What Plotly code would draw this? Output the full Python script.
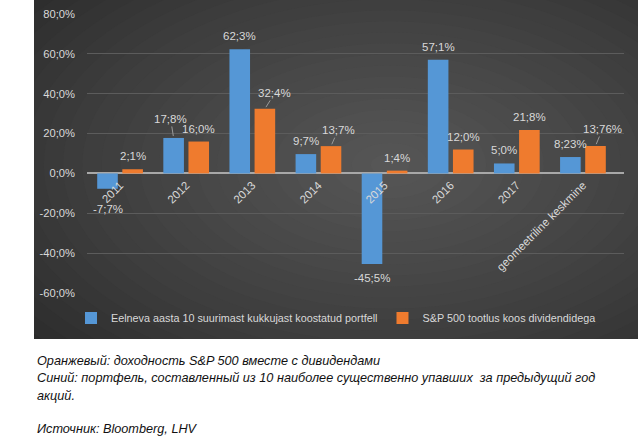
import plotly.graph_objects as go

# ---------------- data ----------------
categories = ["2011", "2012", "2013", "2014", "2015", "2016", "2017", "geomeetriline keskmine"]
portfolio = [-7.7, 17.8, 62.3, 9.7, -45.5, 57.1, 5.0, 8.23]
sp500 = [2.1, 16.0, 32.4, 13.7, 1.4, 12.0, 21.8, 13.76]
label_decimals = [1, 1, 1, 1, 1, 1, 1, 2]
series_names = ["Eelneva aasta 10 suurimast kukkujast koostatud portfell",
                "S&P 500 tootlus koos dividendidega"]
y_ticks = [80, 60, 40, 20, 0, -20, -40, -60]
notes = ["Оранжевый: доходность S&P 500 вместе с дивидендами",
         "Синий: портфель, составленный из 10 наиболее существенно упавших  за предыдущий год",
         "акций.",
         "Источник: Bloomberg, LHV"]

# ---------------- style ----------------
W, H = 638, 441
PL, PR, PT, PB = 87, 624, 14, 293          # plot area in px
YMIN, YMAX = -60, 80
BARGAP, GROUPGAP = 0.24, 0.18
BLUE, ORANGE = "#5597d6", "#ef7b2e"
TXT = "#d9d9d9"
FONT = "Liberation Sans"

def px(x):
    return (x - PL) / (PR - PL)

def py(y):
    return (PB - y) / (PB - PT)

def fmt(v, d):
    return f"{v:.{d}f}".replace(".", ";") + "%"

fig = go.Figure()
fig.add_trace(go.Bar(x=categories, y=portfolio, name=series_names[0], marker_color=BLUE,
                     marker_line_width=0))
fig.add_trace(go.Bar(x=categories, y=sp500, name=series_names[1], marker_color=ORANGE,
                     marker_line_width=0))

# ---------------- background (dark radial gradient panel) ----------------
shapes = []
BG_L, BG_T, BG_R, BG_B = 34, 0, 640, 339
shapes.append(dict(type="rect", xref="paper", yref="paper", x0=px(BG_L), x1=px(BG_R),
                   y0=py(BG_B), y1=py(BG_T), fillcolor="#272727", line_width=0, layer="below"))
cx, cy = 390, 165
N = 26
dark, light = (40, 40, 40), (86, 86, 86)
for k in range(N):
    s = 1.25 * (1 - k / N)
    t = (k / (N - 1)) ** 0.8
    c = tuple(int(dark[i] + (light[i] - dark[i]) * t) for i in range(3))
    rx, ry = 400 * s, 230 * s
    shapes.append(dict(type="circle", xref="paper", yref="paper",
                       x0=px(cx - rx), x1=px(cx + rx), y0=py(cy + ry), y1=py(cy - ry),
                       fillcolor=f"rgb{c}", line_width=0, layer="below"))
# white masks outside panel
shapes.append(dict(type="rect", xref="paper", yref="paper", x0=px(-20), x1=px(BG_L),
                   y0=py(H + 20), y1=py(-20), fillcolor="white", line_width=0, layer="below"))
shapes.append(dict(type="rect", xref="paper", yref="paper", x0=px(-20), x1=px(W + 20),
                   y0=py(H + 20), y1=py(BG_B), fillcolor="white", line_width=0, layer="below"))

# ---------------- data labels ----------------
offset = (1 - BARGAP) / 4  # bar center offset within a category (category units)
leader = {(0, 1): (-3, -19), (1, 2): (10, -16), (1, 3): (7, -16), (1, 7): (7, -17)}
special_shift = {(0, 0): 20}
annotations = []
for si, vals in enumerate([portfolio, sp500]):
    sign = -1 if si == 0 else 1
    for i, v in enumerate(vals):
        text = fmt(v, label_decimals[i])
        xx = i + sign * offset
        if (si, i) in leader:
            dx, dy = leader[(si, i)]
            annotations.append(dict(x=xx, y=v, xref="x", yref="y", text=text, showarrow=True,
                                    arrowhead=0, arrowwidth=1, arrowcolor="#9a9a9a", ax=dx, ay=dy,
                                    standoff=2, font=dict(family=FONT, size=11.5, color=TXT)))
        else:
            sh = special_shift.get((si, i), 13 if v >= 0 else 14)
            annotations.append(dict(x=xx, y=v, xref="x", yref="y", text=text, showarrow=False,
                                    yshift=sh if v >= 0 else -sh, yanchor="middle",
                                    font=dict(family=FONT, size=11.5, color=TXT)))

# ---------------- notes below ----------------
note_y = [361, 378, 396, 429]
for t, yy in zip(notes, note_y):
    annotations.append(dict(x=px(35), y=py(yy), xref="paper", yref="paper", text=t,
                            showarrow=False, xanchor="left", yanchor="middle",
                            font=dict(family=FONT, size=12.7, color="#111111", style="italic")))

fig.update_layout(
    width=W, height=H,
    margin=dict(l=PL, r=W - PR, t=PT, b=H - PB, pad=0, autoexpand=False),
    paper_bgcolor="white", plot_bgcolor="rgba(0,0,0,0)",
    barmode="group", bargap=BARGAP, bargroupgap=GROUPGAP,
    shapes=shapes, annotations=annotations,
    font=dict(family=FONT, size=11, color=TXT),
    legend=dict(orientation="h", x=px(71), xanchor="left", y=py(318), yanchor="middle",
                bgcolor="rgba(0,0,0,0)", font=dict(family=FONT, size=10.8, color=TXT),
                traceorder="normal", itemwidth=30),
    showlegend=True,
)
fig.update_yaxes(range=[YMIN, YMAX], tickvals=y_ticks,
                 ticktext=[fmt(v, 1) for v in y_ticks],
                 showgrid=True, gridcolor="#5c5c5c", gridwidth=1,
                 zeroline=True, zerolinecolor="#a8a8a8", zerolinewidth=1.5,
                 showline=False, ticks="", ticklabelstandoff=11,
                 tickfont=dict(family=FONT, size=11.2, color=TXT))
fig.update_xaxes(anchor="free", position=(0 - YMIN) / (YMAX - YMIN),
                 tickangle=-45, showgrid=False, showline=False, zeroline=False, ticks="",
                 ticklabelstandoff=2,
                 tickfont=dict(family=FONT, size=11.5, color=TXT))

fig.write_html("out.html", config={"displayModeBar": False},
               post_script="document.body.style.margin='0px';")
